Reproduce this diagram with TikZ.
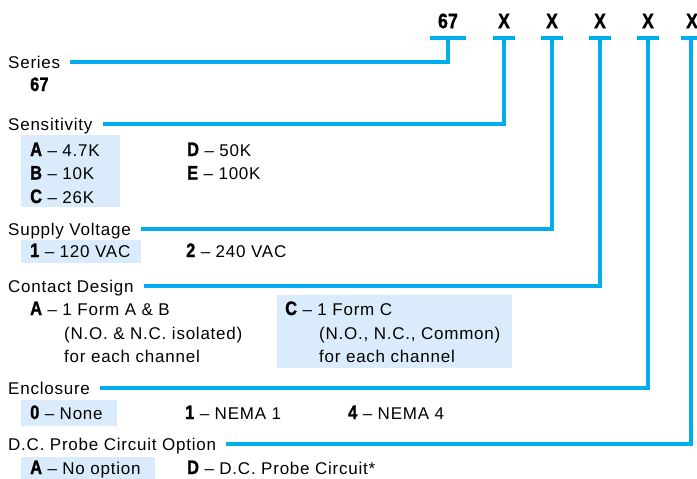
\documentclass[tikz,border=0pt]{standalone}
\usepackage{fontspec}
\setmainfont{Liberation Sans}[LetterSpace=4.5, BoldFeatures={FakeStretch=0.84, LetterSpace=1, FakeBold=1.2}]
\usepackage{tikz}
\usetikzlibrary{positioning, calc}
\definecolor{LineBlue}{RGB}{0,174,239}
\definecolor{BoxBlue}{RGB}{218,236,251}
\newcommand{\optkey}[1]{{\fontsize{19.5}{23.5}\selectfont\bfseries #1}}

\begin{document}
\begin{tikzpicture}[
    x=1pt, y=-1pt,
    font=\fontsize{17}{23.5}\selectfont,
    link/.style={LineBlue, line width=4pt},
    code/.style={font=\fontsize{21}{24}\selectfont\bfseries, inner sep=0pt},
    lbl/.style={anchor=west, inner sep=0pt, text height=12pt, text depth=0pt},
    opt/.style={anchor=west, inner sep=0pt, text height=12pt, text depth=0pt},
    optbox/.style={fill=BoxBlue, draw=none, inner sep=0pt, anchor=north west},
]
    \useasboundingbox (0,0) rectangle (697,479);

    % Highlight boxes (standard options)
    \node[optbox, minimum width=99pt, minimum height=72pt] (boxsens) at (21,135) {};
    \node[optbox, minimum width=120pt, minimum height=23pt] (boxvolt) at (21,240) {};
    \node[optbox, minimum width=235pt, minimum height=73pt] (boxcont) at (277,295) {};
    \node[optbox, minimum width=96pt, minimum height=26pt] (boxencl) at (21,400) {};
    \node[optbox, minimum width=134pt, minimum height=22pt] (boxprobe) at (21,457) {};

    % Model code with T-bars
    \foreach \n/\x/\w/\txt in {0/448/18/67, 1/504/11/X, 2/552/11/X, 3/600/11/X, 4/648/11/X, 5/692/11/X} {
        \node[code] (k\n) at (\x,21) {\txt};
        \coordinate (t\n) at (\x,38);
        \draw[link] ([xshift=-\w pt]t\n) -- ([xshift=\w pt]t\n);
    }
    \coordinate (t5) at (691,38);

    % Series
    \node[lbl] (series) at (8,62) {Series};
    \node[opt] (ser67) at (30,85) {\optkey{67}};

    % Sensitivity
    \node[lbl] (sens) at (8,124) {Sensitivity};
    \node[opt] (sensA) at (30,150) {\optkey{A} -- 4.7K};
    \node[opt] (sensB) at (30,173.5) {\optkey{B} -- 10K};
    \node[opt] (sensC) at (30,197) {\optkey{C} -- 26K};
    \node[opt] (sensD) at (187,150) {\optkey{D} -- 50K};
    \node[opt] (sensE) at (187,173.5) {\optkey{E} -- 100K};

    % Supply Voltage
    \node[lbl] (volt) at (8,229) {Supply Voltage};
    \node[opt] (volt1) at (30,251) {\optkey{1} -- 120 VAC};
    \node[opt] (volt2) at (186,251) {\optkey{2} -- 240 VAC};

    % Contact Design
    \node[lbl] (cont) at (8,286) {Contact Design};
    \node[opt] (contA) at (30,309) {\optkey{A} -- 1 Form A \& B};
    \node[opt] (contA2) at (64,333) {(N.O. \& N.C. isolated)};
    \node[opt] (contA3) at (64,356) {for each channel};
    \node[opt] (contC) at (285,309) {\optkey{C} -- 1 Form C};
    \node[opt] (contC2) at (319,333) {(N.O., N.C., Common)};
    \node[opt] (contC3) at (319,356) {for each channel};

    % Enclosure
    \node[lbl] (encl) at (8,388) {Enclosure};
    \node[opt] (encl0) at (30,413) {\optkey{0} -- None};
    \node[opt] (encl1) at (185,413) {\optkey{1} -- NEMA 1};
    \node[opt] (encl4) at (348,413) {\optkey{4} -- NEMA 4};

    % D.C. Probe Circuit Option
    \node[lbl] (probe) at (8,444) {D.C. Probe Circuit Option};
    \node[opt] (probeA) at (30,468) {\optkey{A} -- No option};
    \node[opt] (probeD) at (187,468) {\optkey{D} -- D.C. Probe Circuit*};

    % Leader lines
    \foreach \lab/\t in {series/t0, sens/t1, volt/t2, cont/t3, encl/t4, probe/t5}
        \draw[link] ([xshift=10pt]\lab.east) -| (\t);

\end{tikzpicture}
\end{document}
